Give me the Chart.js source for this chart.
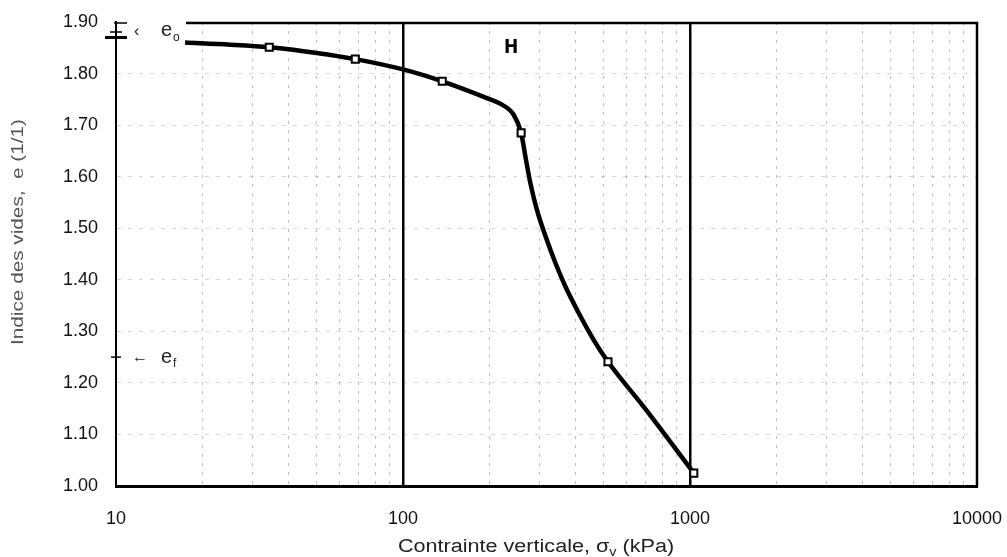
<!DOCTYPE html>
<html>
<head>
<meta charset="utf-8">
<script src="https://cdn.jsdelivr.net/npm/chart.js@4.4.1/dist/chart.umd.min.js"></script>
<style>
    html, body { margin: 0; padding: 0; background: #fff; }
    #wrap { width: 1007px; height: 557px; }
</style>
</head>
<body>
<div id="wrap"><canvas id="oedoChart" width="1007" height="557"></canvas></div>
<script>
// Mesures (points carrés)
const pressionEssai = [34.2, 68.2, 137, 258, 518, 1031];
const indiceEssai = [1.851, 1.828, 1.785, 1.685, 1.241, 1.025];

// Courbe lissée
const pressionCourbe = [17.4, 25, 34.2, 50, 68.2, 100, 137, 199, 219, 243, 258, 267, 278, 293, 314, 340, 368, 410, 462, 518, 700, 1031];
const indiceCourbe = [1.860, 1.856, 1.851, 1.840, 1.828, 1.808, 1.785, 1.751, 1.741, 1.720, 1.685, 1.639, 1.587, 1.535, 1.484, 1.432, 1.387, 1.335, 1.283, 1.241, 1.149, 1.025];

// Axes
const xTicks = [10, 100, 1000, 10000];
const yTicks = [1.00, 1.10, 1.20, 1.30, 1.40, 1.50, 1.60, 1.70, 1.80, 1.90];

// Repères
const e0 = 1.87;
const ef = 1.25;

const tickFont = { family: '"Liberation Sans", Arial, sans-serif', size: 18 };

function isDecade(v) {
    return xTicks.some(t => Math.abs(t - v) < 1e-6);
}

// text stretched horizontally like the scan
function stretchedText(ctx, text, cx, cy, font, sx, angle) {
    ctx.save();
    ctx.translate(cx, cy);
    if (angle) ctx.rotate(angle);
    ctx.scale(sx, 1);
    ctx.font = font;
    ctx.textAlign = 'center';
    ctx.fillText(text, 0, 0);
    ctx.restore();
}

// Cadre, annotations et titres
const decorPlugin = {
    id: 'decor',
    afterDraw(chart) {
        const ctx = chart.ctx;
        const area = chart.chartArea;
        const yScale = chart.scales.y;
        ctx.save();

        // top + right frame
        ctx.strokeStyle = '#000';
        ctx.lineWidth = 2.5;
        ctx.beginPath();
        ctx.moveTo(area.left + 70, area.top + 1);
        ctx.lineTo(area.right, area.top + 1);
        ctx.lineTo(area.right, area.bottom);
        ctx.stroke();

        // small marks on the left axis
        ctx.lineWidth = 1.5;
        ctx.beginPath();
        ctx.moveTo(area.left - 2, area.top + 1);
        ctx.lineTo(area.left + 11, area.top + 1);
        ctx.moveTo(area.left - 6, area.top + 10);
        ctx.lineTo(area.left + 6, area.top + 10);
        ctx.stroke();

        const y0 = yScale.getPixelForValue(e0);
        const yf = yScale.getPixelForValue(ef);
        ctx.lineWidth = 3;
        ctx.beginPath();
        ctx.moveTo(area.left - 11, y0);
        ctx.lineTo(area.left + 11, y0);
        ctx.stroke();
        ctx.lineWidth = 1.5;
        ctx.beginPath();
        ctx.moveTo(area.left - 5, yf);
        ctx.lineTo(area.left + 5, yf);
        ctx.stroke();

        // e0 / ef labels
        ctx.fillStyle = '#222';
        ctx.textBaseline = 'alphabetic';
        ctx.textAlign = 'left';
        ctx.font = '16px "Liberation Sans", Arial, sans-serif';
        ctx.fillText('‹', area.left + 18, y0 - 1);
        ctx.fillText('←', area.left + 16, yf + 5);
        ctx.font = '20px "Liberation Sans", Arial, sans-serif';
        ctx.fillText('e', area.left + 45, y0 - 1);
        ctx.fillText('e', area.left + 45, yf + 6);
        ctx.font = '12px "Liberation Sans", Arial, sans-serif';
        ctx.fillText('o', area.left + 57, y0 + 4);
        ctx.fillText('f', area.left + 57, yf + 10);

        // H
        ctx.fillStyle = '#000';
        ctx.font = 'bold 19px "Liberation Sans Narrow", "DejaVu Sans Condensed", sans-serif';
        ctx.fillText('H', 504, 53);

        // y title
        ctx.fillStyle = '#555';
        stretchedText(ctx, 'Indice des vides,  e (1/1)', 23, 232,
            '17px "Liberation Sans", Arial, sans-serif', 1.22, -Math.PI / 2);

        // x title with subscript
        ctx.fillStyle = '#222';
        ctx.save();
        ctx.translate(536, 552);
        ctx.scale(1.2, 1);
        const part1 = 'Contrainte verticale, σ';
        const part2 = 'v';
        const part3 = ' (kPa)';
        const f1 = '18px "Liberation Sans", Arial, sans-serif';
        const f2 = '12px "Liberation Sans", Arial, sans-serif';
        ctx.font = f1;
        const w1 = ctx.measureText(part1).width;
        const w3 = ctx.measureText(part3).width;
        ctx.font = f2;
        const w2 = ctx.measureText(part2).width;
        let x = -(w1 + w2 + w3) / 2;
        ctx.font = f1;
        ctx.fillText(part1, x, 0);
        x += w1;
        ctx.font = f2;
        ctx.fillText(part2, x, 4);
        x += w2;
        ctx.font = f1;
        ctx.fillText(part3, x, 0);
        ctx.restore();

        ctx.restore();
    }
};

function initializeChart() {
    const ctx = document.getElementById('oedoChart').getContext('2d');
    new Chart(ctx, {
        type: 'line',
        data: {
            datasets: [
                {
                    label: 'Essai',
                    data: pressionEssai.map((p, i) => ({ x: p, y: indiceEssai[i] })),
                    showLine: false,
                    pointStyle: 'rect',
                    pointRadius: 5,
                    pointBackgroundColor: '#fff',
                    pointBorderColor: '#000',
                    pointBorderWidth: 2,
                    order: 0
                },
                {
                    label: 'Courbe',
                    data: pressionCourbe.map((p, i) => ({ x: p, y: indiceCourbe[i] })),
                    borderColor: '#000',
                    borderWidth: 4.5,
                    pointRadius: 0,
                    cubicInterpolationMode: 'monotone',
                    fill: false,
                    order: 1
                }
            ]
        },
        options: {
            responsive: false,
            animation: false,
            layout: { padding: { left: 0, right: 30, top: 22, bottom: 0 } },
            plugins: {
                legend: { display: false },
                tooltip: { enabled: false }
            },
            scales: {
                x: {
                    type: 'logarithmic',
                    min: 10,
                    max: 10000,
                    afterFit(scale) { scale.height = 71; },
                    afterBuildTicks(scale) {
                        const list = [];
                        for (let d = 10; d < 10000; d *= 10) {
                            for (let k = 1; k < 10; k++) list.push({ value: d * k });
                        }
                        list.push({ value: 10000 });
                        scale.ticks = list;
                    },
                    ticks: {
                        autoSkip: false,
                        maxRotation: 0,
                        padding: 0,
                        color: '#111',
                        font: tickFont,
                        callback: (v) => isDecade(v) ? String(v) : ''
                    },
                    grid: {
                        drawTicks: true,
                        tickLength: 22,
                        tickColor: 'rgba(0,0,0,0)',
                        color: (c) => {
                            const v = c.tick ? c.tick.value : 0;
                            if (v === 100 || v === 1000) return '#000';
                            if (v === 10 || v === 10000) return 'rgba(0,0,0,0)';
                            return 'rgba(0,0,0,0.25)';
                        },
                        lineWidth: (c) => {
                            const v = c.tick ? c.tick.value : 0;
                            return (v === 100 || v === 1000) ? 2.5 : 1;
                        }
                    },
                    border: {
                        color: '#000',
                        width: 3,
                        dash: (c) => {
                            const v = c.tick ? c.tick.value : 0;
                            return (v === 100 || v === 1000) ? [] : [3, 6];
                        }
                    }
                },
                y: {
                    type: 'linear',
                    min: 1.0,
                    max: 1.9,
                    afterFit(scale) { scale.width = 116; },
                    afterBuildTicks(scale) {
                        scale.ticks = yTicks.map(v => ({ value: v }));
                    },
                    ticks: {
                        padding: 0,
                        color: '#111',
                        font: tickFont,
                        callback: (v) => Number(v).toFixed(2)
                    },
                    grid: {
                        drawTicks: true,
                        tickLength: 18,
                        tickColor: 'rgba(0,0,0,0)',
                        color: (c) => {
                            const v = c.tick ? c.tick.value : 0;
                            if (v <= 1.0 || v >= 1.9) return 'rgba(0,0,0,0)';
                            return 'rgba(0,0,0,0.16)';
                        },
                        lineWidth: 1
                    },
                    border: {
                        color: '#000',
                        width: 2,
                        dash: [4, 7]
                    }
                }
            }
        },
        plugins: [decorPlugin]
    });
}

document.addEventListener('DOMContentLoaded', () => {
    initializeChart();
});
</script>
</body>
</html>
